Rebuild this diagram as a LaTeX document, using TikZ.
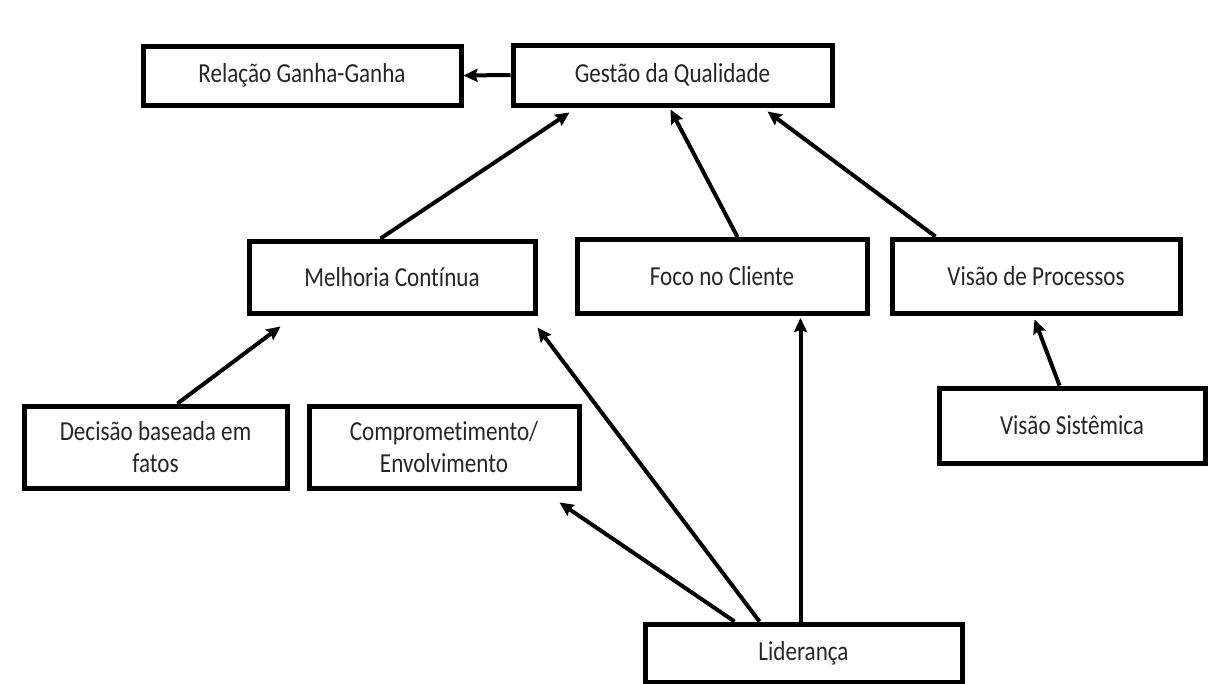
\documentclass[tikz,border=0pt]{standalone}
\usepackage{fontspec}
\setmainfont{Carlito}[FakeStretch=0.84, Ligatures=NoCommon]
\usetikzlibrary{arrows.meta}
\begin{document}
\begin{tikzpicture}[x=1pt,y=-1pt,
  box/.style={draw, line width=5pt, fill=white, inner sep=0pt, align=center,
    font=\fontsize{27.5}{32}\selectfont, text=black!85},
  conn/.style={line width=4pt, -{Stealth[length=14pt,width=13pt,inset=2pt]}}]
\useasboundingbox[fill=white] (0,0) rectangle (1209,683);
% boxes
\node[box, minimum width=318pt, minimum height=59pt] (rel) at (302,75.5) {Relação Ganha-Ganha};
\node[box, minimum width=319pt, minimum height=60pt] (ges) at (672.5,75) {Gestão da Qualidade};
\node[box, minimum width=286pt, minimum height=72pt] (mel) at (392,277) {Melhoria Contínua};
\node[box, minimum width=290pt, minimum height=74pt] (foc) at (722,276.5) {Foco no Cliente};
\node[box, minimum width=288pt, minimum height=74pt] (vpr) at (1036,276) {Visão de Processos};
\node[box, minimum width=263pt, minimum height=82pt] (dec) at (155.5,447) {Decisão baseada em\\fatos};
\node[box, minimum width=270pt, minimum height=82pt] (com) at (444,447) {Comprometimento/\\Envolvimento};
\node[box, minimum width=266pt, minimum height=75pt] (vsi) at (1072,425.5) {Visão Sistêmica};
\node[box, minimum width=317pt, minimum height=58pt] (lid) at (803.5,653) {Liderança};
% connectors
\draw[conn] (ges.west) -- (rel.east);
\draw[conn] ([xshift=134pt]mel.north west) -- ([xshift=59pt,yshift=-5pt]ges.south west);
\draw[conn] ([xshift=163pt]foc.north west) -- ([xshift=160pt,yshift=-2pt]ges.south west);
\draw[conn] ([xshift=46pt]vpr.north west) -- ([xshift=257pt,yshift=-4pt]ges.south west);
\draw[conn] ([xshift=156pt]dec.north west) -- ([xshift=34pt,yshift=-11pt]mel.south west);
\draw[conn] ([xshift=123pt]vsi.north west) -- ([xshift=145pt,yshift=-4pt]vpr.south west);
\draw[conn] ([xshift=92pt]lid.north west) -- ([xshift=-22pt,yshift=-12pt]com.south east);
\draw[conn] ([xshift=117pt]lid.north west) -- ([yshift=-12pt]mel.south east);
\draw[conn] ([xshift=158pt]lid.north west) -- ([xshift=226pt,yshift=-2pt]foc.south west);
\end{tikzpicture}
\end{document}
